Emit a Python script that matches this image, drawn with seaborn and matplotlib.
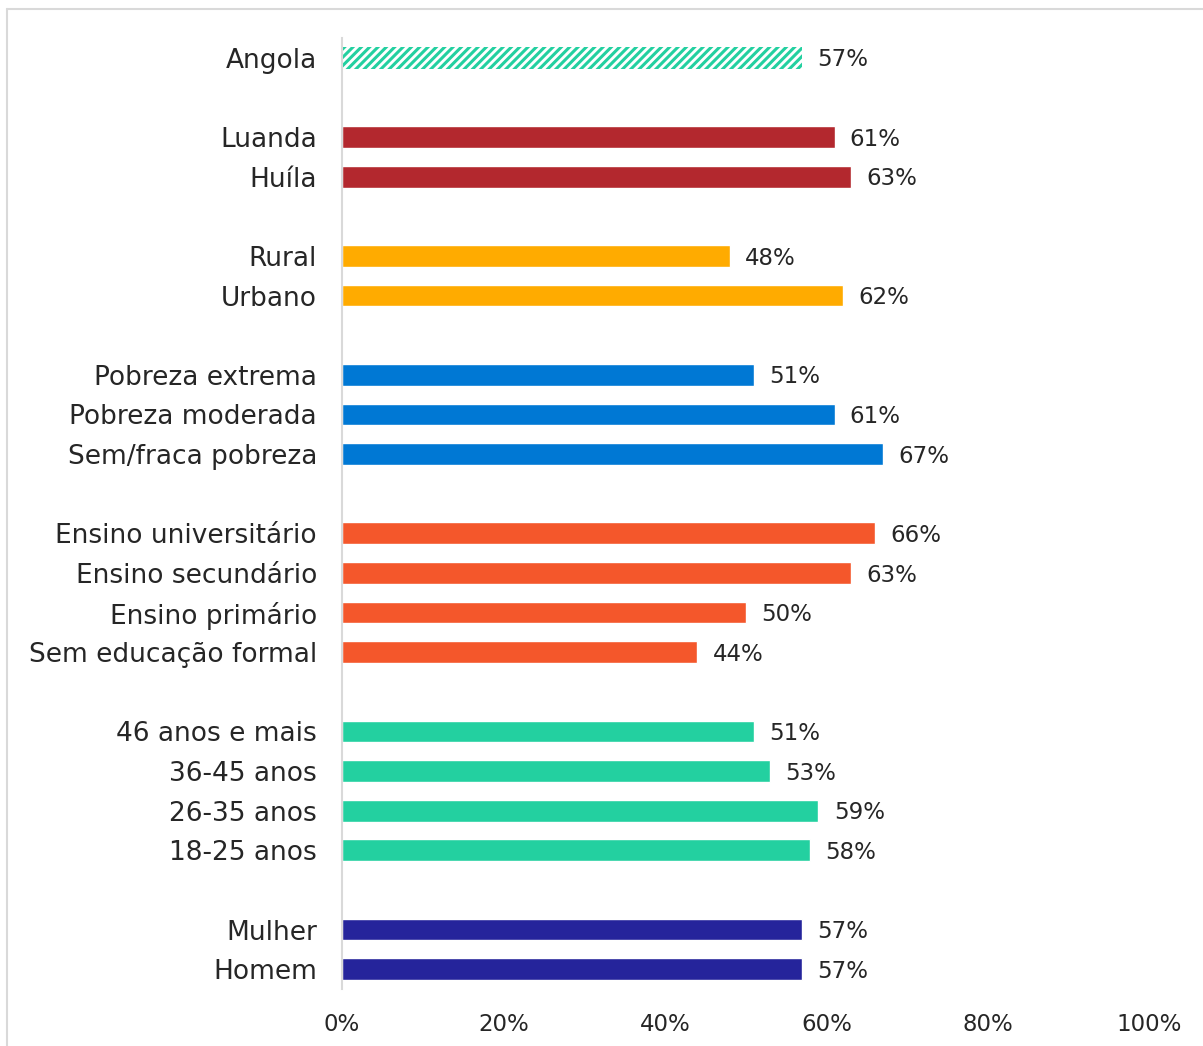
import matplotlib
matplotlib.use("Agg")
import matplotlib.pyplot as plt
from matplotlib.lines import Line2D
import pandas as pd
import seaborn as sns

# Categories, grouped; empty strings act as spacers between groups
groups = {
    "total": ["Angola"],
    "provincia": ["Luanda", "Huíla"],
    "area": ["Rural", "Urbano"],
    "pobreza": ["Pobreza extrema", "Pobreza moderada", "Sem/fraca pobreza"],
    "educacao": ["Ensino universitário", "Ensino secundário", "Ensino primário",
                 "Sem educação formal"],
    "idade": ["46 anos e mais", "36-45 anos", "26-35 anos", "18-25 anos"],
    "sexo": ["Mulher", "Homem"],
}
values_total = [57]
values_provincia = [61, 63]
values_area = [48, 62]
values_pobreza = [51, 61, 67]
values_educacao = [66, 63, 50, 44]
values_idade = [51, 53, 59, 58]
values_sexo = [57, 57]

group_colors = {
    "total": "#23d0a0",
    "provincia": "#b3282e",
    "area": "#ffab00",
    "pobreza": "#0078d4",
    "educacao": "#f4572b",
    "idade": "#23d0a0",
    "sexo": "#25249b",
}
tick_values = [0, 20, 40, 60, 80, 100]

all_values = [values_total, values_provincia, values_area, values_pobreza,
              values_educacao, values_idade, values_sexo]

rows = []
order = []
palette = {}
for gi, ((gname, cats), vals) in enumerate(zip(groups.items(), all_values)):
    if gi > 0:
        order.append(" " * gi)  # spacer slot
    for c, v in zip(cats, vals):
        rows.append({"categoria": c, "valor": v / 100, "grupo": gname})
        order.append(c)
        palette[c] = group_colors[gname]
df = pd.DataFrame(rows)

sns.set_theme(style="white")
plt.rcParams["font.family"] = ["DejaVu Sans"]
plt.rcParams["hatch.linewidth"] = 2.2

FS_LABEL = 19
FS_NUM = 16.5
TXT = "#262626"

W, H = 1203, 1046
fig = plt.figure(figsize=(W / 100, H / 100), dpi=100)
ax = fig.add_axes([342 / W, 1 - 989 / H, (1149.5 - 342) / W, (989 - 38) / H])

sns.barplot(data=df, y="categoria", x="valor", hue="categoria", order=order,
            hue_order=order[:], palette={k: palette.get(k, "white") for k in order},
            orient="h", width=0.55, dodge=False, legend=False, ax=ax,
            saturation=1, errorbar=None)

# National total drawn as a hatched bar
for patch in ax.patches:
    y_center = patch.get_y() + patch.get_height() / 2
    idx = int(round(y_center))
    if order[idx] == "Angola":
        patch.set_facecolor("white")
        patch.set_edgecolor(group_colors["total"])
        patch.set_hatch("////")
        patch.set_linewidth(0)

# Value labels next to each bar
for _, r in df.iterrows():
    yi = order.index(r["categoria"])
    ax.annotate(f"{int(round(r['valor'] * 100))}%", xy=(r["valor"], yi),
                xytext=(11, -1.5), textcoords="offset points",
                ha="left", va="center", fontsize=FS_NUM, color=TXT)

ax.set_xlim(0, 1)
ax.set_ylim(len(order) - 0.5, -0.5)
ax.set_xticks([t / 100 for t in tick_values])
ax.set_xticklabels([f"{t}%" for t in tick_values], fontsize=FS_NUM, color=TXT)
ax.set_yticks(range(len(order)))
ax.set_yticklabels([o if o.strip() else "" for o in order], fontsize=FS_LABEL,
                   color=TXT)
ax.tick_params(axis="y", length=0, pad=18)
ax.tick_params(axis="x", length=0, pad=17)
ax.set_xlabel("")
ax.set_ylabel("")
for s in ["top", "right", "bottom"]:
    ax.spines[s].set_visible(False)
ax.spines["left"].set_color("#d9d9d9")
ax.spines["left"].set_linewidth(1.5)

# Light frame around the chart area
fig.add_artist(Line2D([7 / W, 1], [1 - 9 / H, 1 - 9 / H], transform=fig.transFigure,
                      color="#d9d9d9", lw=1.5))
fig.add_artist(Line2D([7 / W, 7 / W], [0, 1 - 9 / H], transform=fig.transFigure,
                      color="#d9d9d9", lw=1.5))

fig.savefig("out.png", dpi=100)
